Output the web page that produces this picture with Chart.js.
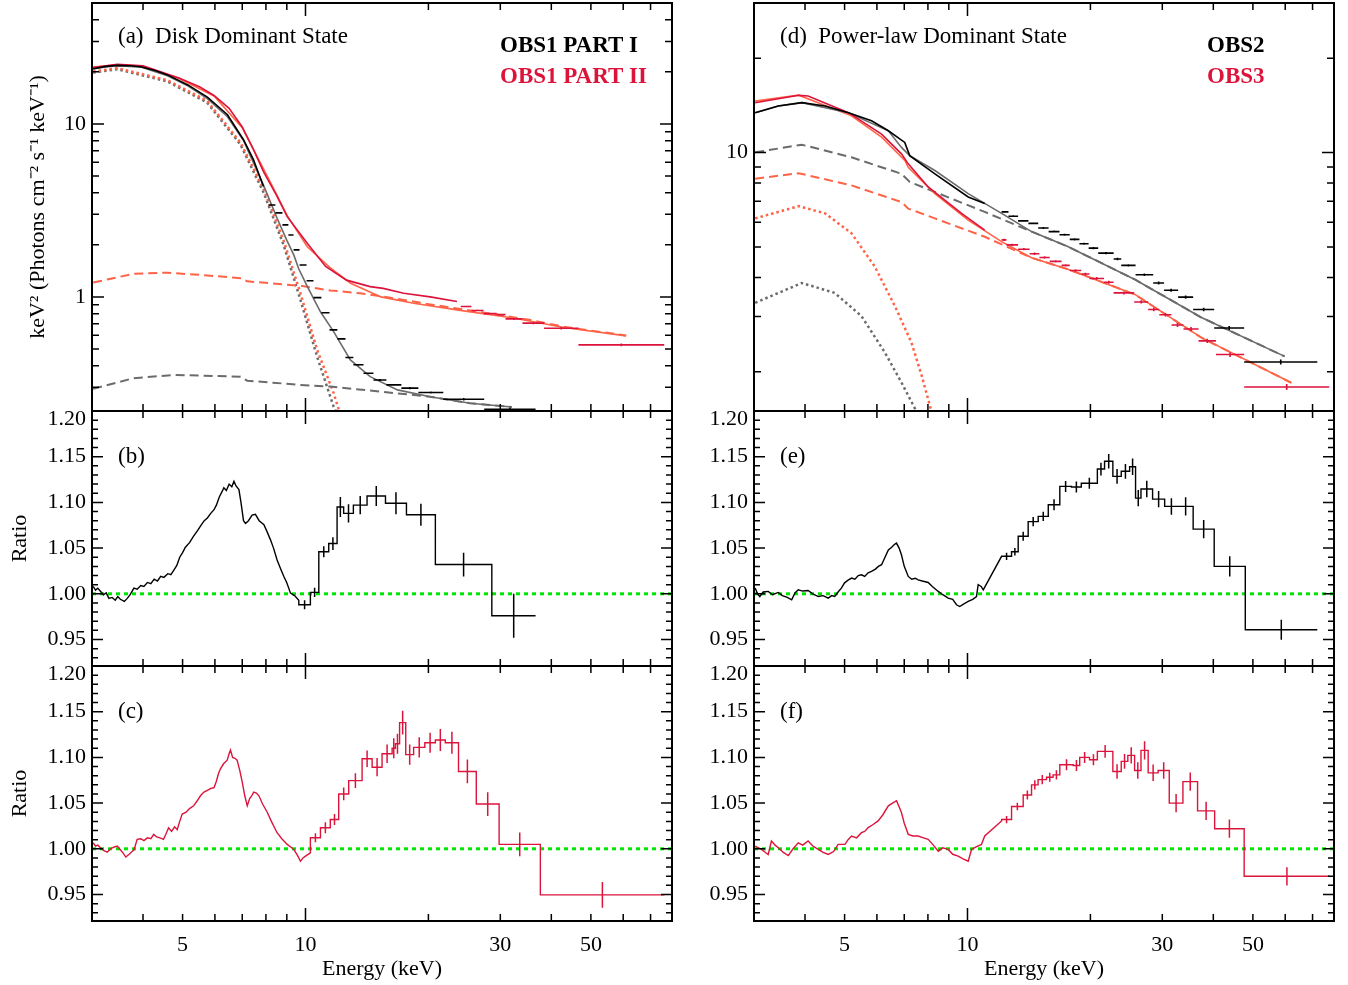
<!DOCTYPE html>
<html>
<head>
<meta charset="utf-8">
<script src="https://cdn.jsdelivr.net/npm/chart.js@4.4.1/dist/chart.umd.min.js"></script>
<style>
  body { margin: 0; background: #fff; width: 1348px; height: 985px; position: relative; overflow: hidden; }
  canvas { position: absolute; }
</style>
</head>
<body>
<canvas id="pa"></canvas>
<canvas id="pb"></canvas>
<canvas id="pc"></canvas>
<canvas id="pd"></canvas>
<canvas id="pe"></canvas>
<canvas id="pf"></canvas>
<script>
// ---- axis ticks ----
const X_LABELS = [5, 10, 30, 50];
const X_MAJOR = [10];
const X_MINOR = [4, 5, 6, 7, 8, 9, 20, 30, 40, 50, 60, 70];
const YA_LABELS = [1, 10];
const YA_MAJOR = [1, 10];
const YA_MINOR = [0.3, 0.4, 0.5, 0.6, 0.7, 0.8, 0.9, 2, 3, 4, 5, 6, 7, 8, 9, 20, 30, 40];
const YD_LABELS = [10];
const YD_MAJOR = [10];
const YD_MINOR = [2, 3, 4, 5, 6, 7, 8, 9, 20];
const R_LABELS = [0.95, 1.00, 1.05, 1.10, 1.15];
const R_MAJOR = [0.95, 1.00, 1.05, 1.10, 1.15, 1.20];
const R_MINOR = [0.93, 0.94, 0.96, 0.97, 0.98, 0.99, 1.01, 1.02, 1.03, 1.04, 1.06, 1.07, 1.08, 1.09,
                 1.11, 1.12, 1.13, 1.14, 1.16, 1.17, 1.18, 1.19];

// ---- panel (a): disk dominant state, [E keV, keV^2 flux] ----
const aBlk = [[3.02,20.8],[3.24,21.5],[3.46,21.8],[3.73,21.7],[3.95,21.4],[4.3,20.3],[4.59,19.2],[5.15,16.8],
  [5.75,14.3],[6.44,11.3],[7.05,8.1],[7.46,6.2],[7.89,4.35]];
// [lo, hi, value, err]
const aBlkBins = [[8.12,8.44,3.40,0.03],[8.44,8.78,3.06,0.03],[8.78,9.08,2.61,0.025],[9.08,9.35,2.28,0.02],
  [9.35,9.67,1.87,0.02],[9.67,10.06,1.53,0.015],[10.06,10.46,1.24,0.012],[10.46,10.94,0.99,0.01],
  [10.94,11.45,0.81,0.008],[11.45,11.97,0.645,0.007],[11.97,12.53,0.572,0.006],[12.53,13.1,0.446,0.005],
  [13.1,13.87,0.405,0.005],[13.87,14.67,0.362,0.004],[14.67,15.78,0.331,0.004],[15.78,17.17,0.31,0.004],
  [17.17,18.9,0.297,0.004],[18.9,21.75,0.28,0.004],[21.75,27.4,0.256,0.004],[27.4,36.6,0.224,0.005]];
const aBlkModel = [[3.02,20.9],[3.46,21.7],[3.95,21.3],[4.59,19.0],[5.15,16.6],[5.75,14.0],[6.44,11.0],[7.05,8.0],
  [7.9,4.4],[8.52,2.85],[9.02,2.1],[9.36,1.75],[9.63,1.45],[10.1,1.15],[10.88,0.82],[11.72,0.63],[12.88,0.432],
  [14.4,0.346],[16.8,0.29],[20.2,0.265],[25.3,0.243],[32.0,0.231]];
const aBlkPL = [[3.02,0.294],[3.79,0.339],[4.77,0.354],[6.93,0.346],[7.2,0.328],[9.72,0.31],[11.5,0.303],
  [16.8,0.277],[20.2,0.265],[25.3,0.243],[32.0,0.231]];
const aBlkDisk = [[3.02,19.8],[3.46,20.7],[4.59,17.6],[5.74,13.3],[6.93,7.6],[7.9,4.0],[8.85,1.98],[9.72,0.96],
  [10.68,0.45],[11.72,0.232],[11.9,0.215]];
const aRed = [[3.02,21.2],[3.46,22.1],[4.0,21.7],[4.9,18.4],[5.5,16.4],[5.97,14.6],[6.5,12.3],[7.0,9.6],[7.46,7.1],
  [7.89,5.3],[8.5,3.85],[9.02,2.91],[10.1,2.04],[11.2,1.5],[12.6,1.25],[14.4,1.147],[15.5,1.12],[17.4,1.05],
  [20.2,1.0],[23.5,0.94]];
const aRedBins = [[24.0,25.5,0.88,0.01],[25.5,27.3,0.835,0.01],[27.3,29.4,0.80,0.01],[29.4,30.9,0.79,0.01],
  [30.9,34.0,0.746,0.01],[34.0,38.4,0.705,0.01],[38.4,46.6,0.659,0.01],[46.6,75.6,0.528,0.01]];
const aRedModel = [[3.02,21.3],[3.46,22.0],[4.0,21.5],[4.9,18.3],[5.97,14.5],[7.0,9.5],[7.46,7.1],[7.89,5.5],
  [8.5,3.9],[9.02,2.95],[10.1,1.95],[11.5,1.47],[12.9,1.2],[15.3,1.0],[18.4,0.92],[24.4,0.83],[32.3,0.755],
  [43.0,0.665],[61.0,0.595]];
const aRedPL = [[3.02,1.21],[3.79,1.36],[4.59,1.38],[5.53,1.34],[7.0,1.28],[7.2,1.23],[9.72,1.16],[11.5,1.09],
  [13.6,1.05],[16.8,0.975],[20.2,0.905],[24.4,0.845],[29.4,0.79],[35.6,0.735],[43.0,0.672],[61.0,0.598]];
const aRedDisk = [[3.02,20.1],[3.46,21.0],[4.59,17.9],[5.74,13.6],[6.93,7.8],[7.9,4.2],[8.85,2.1],[9.72,1.05],
  [10.68,0.494],[11.72,0.278],[12.07,0.222]];

// ---- panel (d): power-law dominant state ----
const dBlk = [[3.02,13.41],[3.44,14.08],[3.93,14.43],[4.48,14.08],[5.11,13.41],[5.82,12.63],[6.4,11.74],
  [7.02,10.78],[7.22,9.78],[8.32,8.56],[10.04,7.22],[11.02,6.88]];
const dBlkBins = [[12.12,12.6,6.47,0.04],[12.6,13.3,6.27,0.04],[13.3,14.1,6.06,0.04],[14.1,14.9,5.95,0.04],
  [14.9,15.8,5.75,0.04],[15.8,16.8,5.6,0.04],[16.8,17.8,5.47,0.04],[17.8,18.8,5.29,0.04],[18.8,19.8,5.12,0.04],
  [19.8,20.9,4.96,0.04],[20.9,22.8,4.78,0.04],[22.8,23.8,4.58,0.04],[23.8,25.8,4.37,0.04],[25.8,28.5,4.08,0.04],
  [28.5,30.3,3.84,0.04],[30.3,32.8,3.64,0.04],[32.8,35.7,3.46,0.04],[35.7,40.2,3.16,0.04],[40.2,47.6,2.76,0.04],
  [47.6,71.9,2.15,0.04]];
const dBlkModel = [[3.02,13.41],[3.44,14.08],[3.93,14.43],[5.11,13.41],[6.4,11.74],[6.89,10.39],[7.22,9.78],
  [8.32,8.77],[10.04,7.4],[12.12,6.4],[14.35,5.6],[17.6,5.02],[25.7,3.94],[37.4,2.98],[59.8,2.24]];
const dBlkPL = [[3.02,10.02],[3.93,10.6],[5.2,9.66],[6.89,8.56],[7.22,8.06],[8.32,7.49],[11.02,6.47],[14.35,5.6],
  [17.6,5.02],[25.7,3.94],[37.4,2.98],[59.8,2.24]];
const dBlkDisk = [[3.02,3.32],[3.93,3.84],[4.73,3.57],[5.5,3.01],[6.27,2.31],[6.89,1.85],[7.43,1.53],[7.5,1.49]];
const dRed = [[3.02,14.43],[3.86,15.23],[4.07,15.15],[5.11,13.41],[6.16,11.46],[6.89,9.91],[7.16,9.21],
  [8.01,7.77],[9.67,6.4],[11.02,5.66]];
const dRedBins = [[12.12,12.46,5.27,0.04],[12.46,13.3,5.08,0.04],[13.3,14.2,4.92,0.04],[14.2,15.0,4.76,0.04],
  [15.0,15.9,4.63,0.04],[15.9,17.0,4.5,0.04],[17.0,17.8,4.37,0.04],[17.8,19.0,4.21,0.04],[19.0,19.9,4.1,0.04],
  [19.9,21.6,3.97,0.04],[21.6,22.8,3.86,0.04],[22.8,25.6,3.57,0.04],[25.6,27.7,3.34,0.04],[27.7,29.5,3.16,0.04],
  [29.5,31.6,3.04,0.04],[31.6,33.8,2.82,0.04],[33.8,36.8,2.74,0.04],[36.8,40.6,2.51,0.04],[40.6,47.6,2.27,0.04],
  [47.6,76.9,1.79,0.04]];
const dRedModel = [[3.02,14.6],[3.86,15.25],[5.2,13.1],[6.16,11.2],[7.03,9.43],[7.16,8.98],[8.32,7.4],[10.04,6.09],
  [12.12,5.2],[14.35,4.62],[17.6,4.25],[25.7,3.53],[37.4,2.57],[62.1,1.845]];
const dRedPL = [[3.02,8.26],[3.86,8.6],[5.2,7.86],[6.89,6.96],[7.16,6.63],[8.32,6.17],[11.02,5.39],[14.35,4.62],
  [17.6,4.25],[25.7,3.53],[37.4,2.57],[62.1,1.845]];
const dRedDisk = [[3.02,6.17],[3.86,6.75],[4.48,6.4],[5.2,5.53],[5.93,4.33],[6.64,3.24],[7.29,2.48],[7.72,1.95],
  [8.09,1.56],[8.15,1.5]];

// ---- ratio panels: dense part [E, ratio], binned part [lo, hi, ratio, err] ----
const bDense = [[3.02,1.008],[3.06,1.004],[3.1,1.006],[3.15,1.0026],[3.2,0.999],[3.25,1.001],[3.3,0.995],[3.36,0.996],
  [3.42,0.993],[3.47,0.997],[3.52,0.994],[3.6,0.9916],[3.66,0.995],[3.72,0.999],[3.8,1.0062],[3.87,1.005],
  [3.95,1.009],[4.02,1.008],[4.1,1.0124],[4.18,1.011],[4.26,1.016],[4.34,1.014],[4.42,1.019],[4.5,1.018],
  [4.6,1.022],[4.68,1.021],[4.76,1.026],[4.84,1.031],[4.92,1.04],[5.0,1.045],[5.08,1.051],[5.2,1.056],
  [5.32,1.063],[5.44,1.069],[5.53,1.074],[5.65,1.08],[5.75,1.083],[5.86,1.088],[5.97,1.092],[6.05,1.097],
  [6.15,1.106],[6.25,1.112],[6.31,1.116],[6.4,1.113],[6.5,1.12],[6.6,1.117],[6.68,1.123],[6.76,1.118],
  [6.87,1.114],[6.95,1.1],[7.05,1.08],[7.13,1.077],[7.25,1.08],[7.4,1.086],[7.54,1.087],[7.7,1.08],
  [7.91,1.0755],[8.05,1.068],[8.21,1.059],[8.35,1.05],[8.52,1.037],[8.68,1.028],[8.85,1.019],[9.0,1.012],
  [9.19,1.0007],[9.4,0.998],[9.63,0.993]];
const bBins = [[9.63,10.28,0.988,0.005],[10.28,10.78,1.0015,0.005],[10.78,11.4,1.046,0.006],[11.4,11.95,1.055,0.007],
  [11.95,12.4,1.095,0.011],[12.4,13.1,1.088,0.01],[13.1,14.15,1.097,0.01],[14.15,15.7,1.107,0.011],
  [15.7,17.67,1.099,0.012],[17.67,20.8,1.0865,0.012],[20.8,28.6,1.032,0.013],[28.6,36.6,0.976,0.024]];

const cDense = [[3.02,1.0066],[3.06,1.003],[3.1,1.004],[3.15,1.001],[3.21,0.998],[3.27,0.9963],[3.33,1.0],[3.4,1.002],
  [3.46,1.003],[3.52,0.999],[3.58,0.995],[3.63,0.991],[3.7,0.994],[3.76,0.997],[3.8,0.9985],[3.87,1.0103],
  [3.95,1.011],[4.02,1.009],[4.1,1.012],[4.18,1.011],[4.25,1.0158],[4.32,1.013],[4.4,1.012],[4.49,1.0103],
  [4.55,1.016],[4.62,1.023],[4.7,1.019],[4.78,1.024],[4.85,1.021],[4.92,1.03],[4.99,1.038],[5.1,1.04],
  [5.2,1.044],[5.32,1.047],[5.42,1.052],[5.53,1.058],[5.64,1.062],[5.75,1.064],[5.86,1.066],[5.97,1.067],
  [6.05,1.074],[6.12,1.082],[6.19,1.0875],[6.3,1.093],[6.43,1.097],[6.5,1.104],[6.55,1.108],[6.63,1.1],
  [6.72,1.099],[6.8,1.097],[6.9,1.086],[7.0,1.073],[7.1,1.058],[7.2,1.047],[7.3,1.055],[7.38,1.058],
  [7.47,1.062],[7.58,1.061],[7.69,1.058],[7.85,1.049],[8.06,1.040],[8.25,1.03],[8.52,1.0176],[8.75,1.011],
  [9.02,1.0048],[9.2,1.002],[9.36,0.9993],[9.55,0.993],[9.72,0.9864],[9.86,0.99],[10.0,0.992],[10.28,0.9956]];
const cBins = [[10.28,10.88,1.0121,0.005],[10.88,11.5,1.023,0.006],[11.5,12.06,1.032,0.006],[12.06,12.76,1.06,0.007],
  [12.76,13.76,1.0746,0.008],[13.76,14.56,1.0985,0.009],[14.56,15.4,1.0893,0.01],[15.4,16.3,1.104,0.01],
  [16.3,16.6,1.11,0.011],[16.6,17.0,1.115,0.011],[17.0,17.6,1.138,0.013],[17.6,18.4,1.103,0.011],
  [18.4,19.6,1.111,0.011],[19.6,20.8,1.116,0.011],[20.8,22.0,1.119,0.012],[22.0,23.7,1.116,0.012],
  [23.7,26.2,1.0846,0.013],[26.2,29.8,1.049,0.013],[29.8,37.6,1.0048,0.013],[37.6,75.7,0.9496,0.014]];

const eDense = [[3.02,1.0062],[3.06,1.0],[3.1,0.997],[3.16,1.002],[3.25,1.0026],[3.33,0.999],[3.44,1.0015],[3.52,0.998],
  [3.62,0.996],[3.71,0.9934],[3.78,1.001],[3.85,1.0044],[3.95,1.003],[4.07,1.0036],[4.18,1.0],[4.31,0.997],
  [4.43,0.998],[4.56,0.9953],[4.65,0.998],[4.73,0.997],[4.82,1.002],[4.91,1.0062],[5.0,1.012],[5.1,1.015],
  [5.2,1.0172],[5.3,1.016],[5.4,1.02],[5.5,1.0208],[5.6,1.019],[5.71,1.023],[5.82,1.0245],[5.95,1.027],
  [6.05,1.03],[6.16,1.0318],[6.28,1.04],[6.4,1.048],[6.52,1.051],[6.62,1.054],[6.7,1.0555],[6.8,1.05],
  [6.89,1.0427],[7.0,1.03],[7.16,1.019],[7.3,1.016],[7.45,1.017],[7.57,1.0153],[7.75,1.014],[8.01,1.0124],
  [8.2,1.008],[8.48,1.0026],[8.7,0.999],[8.97,0.9953],[9.2,0.994],[9.4,0.988],[9.57,0.9861],[9.8,0.989],
  [10.04,0.9916],[10.3,0.994],[10.52,0.997],[10.62,1.0099],[10.8,1.008],[10.93,1.0044],[12.12,1.041]];
const eBins = [[12.12,12.82,1.041,0.004],[12.82,13.31,1.046,0.004],[13.31,14.08,1.063,0.005],[14.08,14.9,1.079,0.005],
  [14.9,15.77,1.0847,0.005],[15.77,16.83,1.0974,0.006],[16.83,17.97,1.1175,0.006],[17.97,19.0,1.1168,0.006],
  [19.0,20.8,1.121,0.006],[20.8,21.66,1.1365,0.007],[21.66,22.7,1.145,0.008],[22.7,23.8,1.1285,0.008],
  [23.8,24.95,1.134,0.008],[24.95,25.8,1.139,0.009],[25.8,26.6,1.1047,0.009],[26.6,28.4,1.1146,0.009],
  [28.4,30.4,1.1036,0.009],[30.4,32.8,1.0956,0.009],[32.8,35.7,1.0956,0.01],[35.7,40.2,1.0708,0.01],
  [40.2,47.9,1.03,0.011],[47.9,71.9,0.9606,0.011]];

const fDense = [[3.02,1.003],[3.08,1.001],[3.13,0.9993],[3.2,0.996],[3.25,0.9938],[3.31,1.0085],[3.38,1.004],
  [3.44,1.0011],[3.54,0.996],[3.64,0.9926],[3.74,1.0],[3.85,1.0066],[3.95,1.004],[4.07,1.0085],[4.18,1.003],
  [4.31,0.9993],[4.43,0.996],[4.56,0.9938],[4.7,0.997],[4.82,1.0048],[5.01,1.0048],[5.1,1.01],[5.2,1.014],
  [5.35,1.012],[5.5,1.0176],[5.6,1.019],[5.71,1.0232],[5.85,1.026],[6.04,1.0305],[6.2,1.037],[6.4,1.047],
  [6.55,1.05],[6.7,1.0526],[6.8,1.046],[6.89,1.0397],[7.0,1.028],[7.16,1.0158],[7.35,1.014],[7.57,1.014],
  [7.8,1.012],[8.01,1.0103],[8.25,1.004],[8.48,0.9974],[8.7,1.001],[8.97,0.9993],[9.2,0.994],[9.49,0.9919],
  [9.75,0.989],[10.04,0.9864],[10.23,0.9993],[10.5,1.002],[10.82,1.0048],[11.02,1.014],[12.12,1.0305]];
const fBins = [[12.12,12.82,1.032,0.004],[12.82,13.69,1.0463,0.004],[13.69,14.35,1.0588,0.005],[14.35,14.89,1.0699,0.005],
  [14.89,15.61,1.0757,0.005],[15.61,16.2,1.0783,0.005],[16.2,16.83,1.0809,0.005],[16.83,18.15,1.0919,0.006],
  [18.15,18.83,1.0912,0.006],[18.83,19.9,1.1,0.006],[19.9,20.8,1.0974,0.006],[20.8,22.7,1.1066,0.007],
  [22.7,23.8,1.0846,0.008],[23.8,24.7,1.0956,0.008],[24.7,25.66,1.1022,0.009],[25.66,26.6,1.0857,0.009],
  [26.6,27.7,1.1077,0.01],[27.7,29.3,1.0831,0.009],[29.3,31.2,1.0857,0.009],[31.2,33.7,1.05,0.01],
  [33.7,36.6,1.0735,0.01],[36.6,40.3,1.0415,0.01],[40.3,47.6,1.022,0.01],[47.6,77.1,0.9699,0.01]];

const UNITY = [[3, 1], [79, 1]];

// ---- styles ----
const SERIF = "'Liberation Serif', 'Times New Roman', serif";
const BLACK = '#000000', RED = '#dc143c', ORANGE = '#ff6347', GRAY = '#6b6b6b', GREEN = '#00e600';
const DASH = [9, 5], DOT = [2.5, 3];

function curve(pts, color, width, dash) {
    return {
        data: pts.map(p => ({ x: p[0], y: p[1] })),
        borderColor: color, borderWidth: width, borderDash: dash || [],
        pointRadius: 0, tension: 0, clip: 0, spanGaps: false
    };
}

// separate horizontal bins with a small vertical error bar at the centre
function crosses(bins, color) {
    const pts = [];
    bins.forEach(b => {
        const c = Math.sqrt(b[0] * b[1]);
        pts.push({ x: b[0], y: b[2] }, { x: b[1], y: b[2] }, { x: b[1], y: null },
                 { x: c, y: b[2] - b[3] }, { x: c, y: b[2] + b[3] }, { x: c, y: null });
    });
    return { data: pts, borderColor: color, borderWidth: 1.6, pointRadius: 0, tension: 0, clip: 0, spanGaps: false };
}

// dense part as a line, then a step histogram through the bins
function steps(dense, bins, color) {
    const pts = dense.map(p => ({ x: p[0], y: p[1] }));
    bins.forEach(b => { pts.push({ x: b[0], y: b[2] }, { x: b[1], y: b[2] }); });
    return { data: pts, borderColor: color, borderWidth: 1.4, pointRadius: 0, tension: 0, clip: 0 };
}

function errBars(bins, color) {
    const pts = [];
    bins.forEach(b => {
        const c = Math.sqrt(b[0] * b[1]);
        pts.push({ x: c, y: b[2] - b[3] }, { x: c, y: b[2] + b[3] }, { x: c, y: null });
    });
    return { data: pts, borderColor: color, borderWidth: 1.5, pointRadius: 0, tension: 0, clip: 0, spanGaps: false };
}

const frame = {
    id: 'frame',
    afterDatasetsDraw(chart, args, o) {
        const { ctx, chartArea: a } = chart;
        const xs = chart.scales.x, ys = chart.scales.y;
        ctx.save();
        ctx.strokeStyle = '#000';
        ctx.lineWidth = 1.5;
        ctx.beginPath();
        const xt = (v, len) => {
            const p = xs.getPixelForValue(v);
            ctx.moveTo(p, a.bottom); ctx.lineTo(p, a.bottom - len);
            ctx.moveTo(p, a.top); ctx.lineTo(p, a.top + len);
        };
        const yt = (v, len) => {
            const p = ys.getPixelForValue(v);
            if (p < a.top - 0.5 || p > a.bottom + 0.5) return;
            ctx.moveTo(a.left, p); ctx.lineTo(a.left + len, p);
            ctx.moveTo(a.right, p); ctx.lineTo(a.right - len, p);
        };
        X_MINOR.forEach(v => xt(v, 7));
        X_MAJOR.forEach(v => xt(v, 13));
        o.yMinor.forEach(v => yt(v, o.minorLen));
        o.yMajor.forEach(v => yt(v, o.majorLen));
        ctx.stroke();
        ctx.lineWidth = 2;
        ctx.strokeRect(a.left, a.top, a.right - a.left, a.bottom - a.top);
        ctx.textBaseline = 'middle';
        (o.texts || []).forEach(t => {
            ctx.font = t.font;
            ctx.fillStyle = t.color || '#000';
            ctx.textAlign = 'left';
            ctx.fillText(t.text, a.left + t.dx, a.top + t.dy);
        });
        if (o.topLabel) {
            ctx.font = '22px ' + SERIF;
            ctx.fillStyle = '#000';
            ctx.textAlign = 'right';
            ctx.fillText(o.topLabel, a.left - 6, ys.getPixelForValue(1.2) + 8);
        }
        ctx.restore();
    }
};

function xScale(show) {
    return {
        type: 'logarithmic', min: 3, max: 79, bounds: 'data', display: show,
        grid: { display: false, drawTicks: false }, border: { display: false },
        afterBuildTicks: s => { s.ticks = X_LABELS.map(v => ({ value: v })); },
        afterFit: s => {
            s.height = show ? 64 : 0;
            s.paddingLeft = 0; s.paddingRight = 0; s.paddingTop = 0; s.paddingBottom = 0;
        },
        ticks: { padding: 11, autoSkip: false, maxRotation: 0, color: '#000',
                 font: { family: SERIF, size: 22 }, callback: v => String(v) },
        title: { display: show, text: 'Energy (keV)', color: '#000',
                 font: { family: SERIF, size: 22 }, padding: { top: 0, bottom: 3 } }
    };
}

function yScale(type, min, max, labels, fmt, title, titlePad) {
    return {
        type: type, min: min, max: max, bounds: 'data',
        grid: { display: false, drawTicks: false }, border: { display: false },
        afterBuildTicks: s => { s.ticks = labels.map(v => ({ value: v })); },
        afterFit: s => {
            s.width = 92;
            s.paddingTop = 0; s.paddingBottom = 0; s.paddingLeft = 0; s.paddingRight = 0;
        },
        ticks: { padding: 6, autoSkip: false, color: '#000', font: { family: SERIF, size: 22 }, callback: fmt },
        title: { display: !!title, text: title || '', color: '#000',
                 font: { family: SERIF, size: 22 }, padding: { top: titlePad || 0, bottom: 0 } }
    };
}

function make(id, left, top, w, h, pad, xShow, yCfg, datasets, frameOpts) {
    const cv = document.getElementById(id);
    cv.width = w; cv.height = h;
    cv.style.left = left + 'px'; cv.style.top = top + 'px';
    return new Chart(cv.getContext('2d'), {
        type: 'line',
        data: { datasets: datasets },
        options: {
            responsive: false, animation: false, events: [],
            layout: { padding: { left: 0, right: 8, top: pad[0], bottom: pad[1] } },
            plugins: { legend: { display: false }, tooltip: { enabled: false }, frame: frameOpts },
            scales: { x: xScale(xShow), y: yCfg }
        },
        plugins: [frame]
    });
}

const logFmt = v => String(v);
const ratioFmt = v => Number(v).toFixed(2);
const labelFont = '23px ' + SERIF;
const obsFont = 'bold 23px ' + SERIF;

// (a)
make('pa', 0, 0, 680, 415, [3, 4], false,
    yScale('logarithmic', 0.219, 50, YA_LABELS, logFmt, 'keV² (Photons cm⁻² s⁻¹ keV⁻¹)', 25),
    [
        crosses(aBlkBins, BLACK), curve(aBlk, BLACK, 1.6),
        crosses(aRedBins, RED), curve(aRed, RED, 1.6),
        curve(aBlkModel, GRAY, 1.6), curve(aRedModel, ORANGE, 1.6),
        curve(aRedPL, ORANGE, 2, DASH), curve(aBlkPL, GRAY, 2, DASH),
        curve(aRedDisk, ORANGE, 2.5, DOT), curve(aBlkDisk, GRAY, 2.5, DOT)
    ],
    { yMajor: YA_MAJOR, yMinor: YA_MINOR, majorLen: 12, minorLen: 7,
      texts: [
          { text: '(a)  Disk Dominant State', dx: 26, dy: 34, font: labelFont },
          { text: 'OBS1 PART I', dx: 408, dy: 43, font: obsFont },
          { text: 'OBS1 PART II', dx: 408, dy: 74, font: obsFont, color: RED }
      ] });

// (b)
make('pb', 0, 405, 680, 265, [6, 4], false,
    yScale('linear', 0.921, 1.2, R_LABELS, ratioFmt, 'Ratio', 7),
    [ errBars(bBins, BLACK), steps(bDense, bBins, BLACK), curve(UNITY, GREEN, 3, [4, 4]) ],
    { yMajor: R_MAJOR, yMinor: R_MINOR, majorLen: 11, minorLen: 6, topLabel: '1.20',
      texts: [ { text: '(b)', dx: 26, dy: 46, font: labelFont } ] });

// (c)
make('pc', 0, 660, 680, 325, [6, 0], true,
    yScale('linear', 0.921, 1.2, R_LABELS, ratioFmt, 'Ratio', 7),
    [ errBars(cBins, RED), steps(cDense, cBins, RED), curve(UNITY, GREEN, 3, [4, 4]) ],
    { yMajor: R_MAJOR, yMinor: R_MINOR, majorLen: 11, minorLen: 6, topLabel: '1.20',
      texts: [ { text: '(c)', dx: 26, dy: 46, font: labelFont } ] });

// (d)
make('pd', 662, 0, 680, 415, [3, 4], false,
    yScale('logarithmic', 1.5, 30, YD_LABELS, logFmt),
    [
        crosses(dBlkBins, BLACK), curve(dBlk, BLACK, 1.6),
        crosses(dRedBins, RED), curve(dRed, RED, 1.6),
        curve(dBlkModel, GRAY, 1.6), curve(dRedModel, ORANGE, 1.6),
        curve(dRedPL, ORANGE, 2, DASH), curve(dBlkPL, GRAY, 2, DASH),
        curve(dRedDisk, ORANGE, 2.5, DOT), curve(dBlkDisk, GRAY, 2.5, DOT)
    ],
    { yMajor: YD_MAJOR, yMinor: YD_MINOR, majorLen: 12, minorLen: 7,
      texts: [
          { text: '(d)  Power-law Dominant State', dx: 26, dy: 34, font: labelFont },
          { text: 'OBS2', dx: 453, dy: 43, font: obsFont },
          { text: 'OBS3', dx: 453, dy: 74, font: obsFont, color: RED }
      ] });

// (e)
make('pe', 662, 405, 680, 265, [6, 4], false,
    yScale('linear', 0.921, 1.2, R_LABELS, ratioFmt),
    [ errBars(eBins, BLACK), steps(eDense, eBins, BLACK), curve(UNITY, GREEN, 3, [4, 4]) ],
    { yMajor: R_MAJOR, yMinor: R_MINOR, majorLen: 11, minorLen: 6, topLabel: '1.20',
      texts: [ { text: '(e)', dx: 26, dy: 46, font: labelFont } ] });

// (f)
make('pf', 662, 660, 680, 325, [6, 0], true,
    yScale('linear', 0.921, 1.2, R_LABELS, ratioFmt),
    [ errBars(fBins, RED), steps(fDense, fBins, RED), curve(UNITY, GREEN, 3, [4, 4]) ],
    { yMajor: R_MAJOR, yMinor: R_MINOR, majorLen: 11, minorLen: 6, topLabel: '1.20',
      texts: [ { text: '(f)', dx: 26, dy: 46, font: labelFont } ] });
</script>
</body>
</html>
